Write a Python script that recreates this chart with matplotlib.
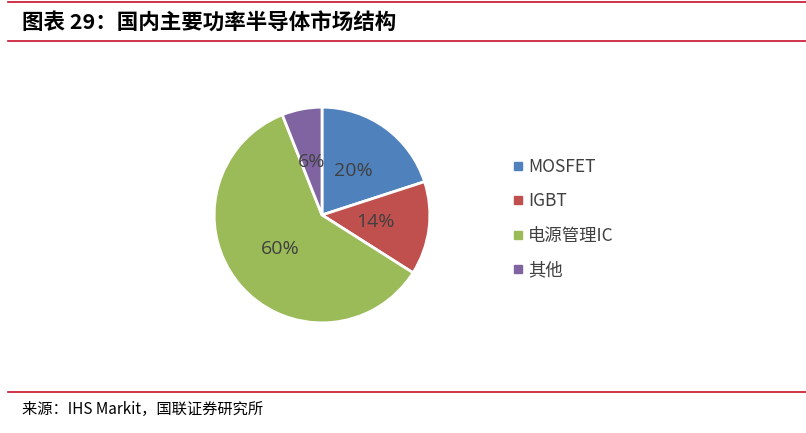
import matplotlib.pyplot as plt
from matplotlib.lines import Line2D

plt.rcParams['font.family'] = ['Noto Sans CJK SC', 'DejaVu Sans']

labels = ['MOSFET', 'IGBT', '电源管理IC', '其他']
shares = [20, 14, 60, 6]
colors = ['#4F81BD', '#C0504D', '#9BBB59', '#8064A2']

W, H = 806, 433
fig = plt.figure(figsize=(W / 100, H / 100), dpi=100)

# pie centred around (322, 215) px, radius ~110 px
cx, cy, r = 322, 215, 110
ax = fig.add_axes([(cx - r) / W, (H - cy - r) / H, 2 * r / W, 2 * r / H])
wedges, texts, autotexts = ax.pie(
    shares, colors=colors, startangle=90, counterclock=False,
    autopct='%d%%', pctdistance=0.5, radius=1,
    wedgeprops=dict(edgecolor='white', linewidth=2),
    textprops=dict(color='#404040', fontsize=14, family=['Open Sans', 'DejaVu Sans']))
ax.set_xlim(-1.02, 1.02)
ax.set_ylim(-1.02, 1.02)
ax.set_aspect('equal')

# legend
handles = [Line2D([], [], marker='s', linestyle='', markersize=6,
                  markerfacecolor=c, markeredgecolor=c) for c in colors]
fig.legend(handles, labels, loc='upper left', bbox_to_anchor=(497 / W, 1 - 142 / H),
           frameon=False, fontsize=12.5, handlelength=0.6, handletextpad=0.3,
           labelspacing=0.95, labelcolor='#404040')

# header / footer lines
red = '#C8102E'
for y, lw in [(2, 1.2), (41, 1.2), (392, 1.2)]:
    fig.add_artist(Line2D([8 / W, 1], [1 - y / H, 1 - y / H], color=red, lw=lw))

fig.text(22 / W, 1 - 22 / H, '图表 29：国内主要功率半导体市场结构', fontsize=15.5,
         fontweight='bold', va='center', ha='left', color='black')
fig.text(22 / W, 1 - 409 / H, '来源：IHS Markit，国联证券研究所', fontsize=11,
         va='center', ha='left', color='black')

fig.savefig('out.png', dpi=100)
